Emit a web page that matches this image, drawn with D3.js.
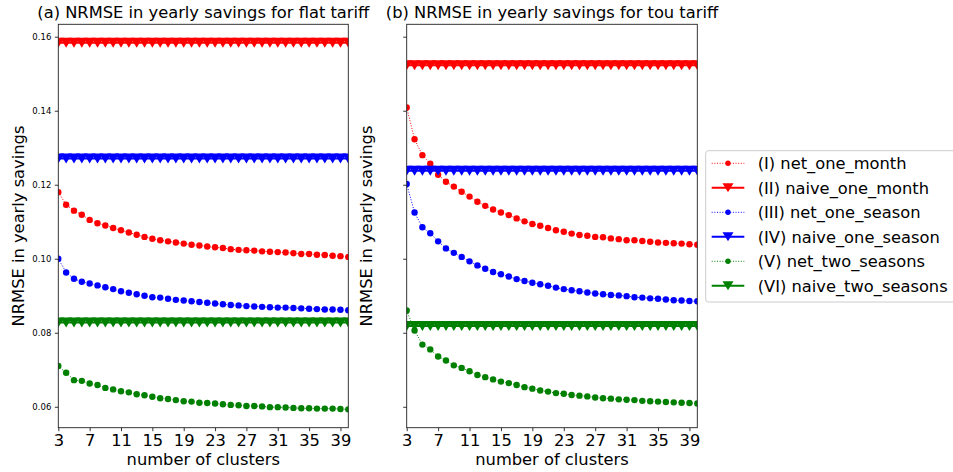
<!DOCTYPE html>
<html>
<head>
<meta charset="utf-8">
<script src="https://cdn.jsdelivr.net/npm/d3@7"></script>
<style>
  html, body { margin: 0; padding: 0; background: #fff; }
  svg { display: block; font-family: "DejaVu Sans", sans-serif; }
</style>
</head>
<body>
<svg id="chart" width="953" height="472"></svg>
<script>
// Number of clusters on the x axis
const clusters = [3, 4, 5, 6, 7, 8, 9, 10, 11, 12, 13, 14, 15, 16, 17, 18, 19, 20, 21,
  22, 23, 24, 25, 26, 27, 28, 29, 30, 31, 32, 33, 34, 35, 36, 37, 38, 39, 40];

// (a) flat tariff
const flatNetOneMonth = [0.1180, 0.1146, 0.1130, 0.1119, 0.1105, 0.1096, 0.1090, 0.1083, 0.1077, 0.1071,
  0.1065, 0.1059, 0.1054, 0.1050, 0.1047, 0.1044, 0.1041, 0.1038, 0.1036, 0.1033,
  0.1031, 0.1029, 0.1026, 0.1024, 0.1023, 0.1022, 0.1020, 0.1019, 0.1018, 0.1017,
  0.1015, 0.1013, 0.1013, 0.1011, 0.1010, 0.1008, 0.1007, 0.1005];
const flatNetOneSeason = [0.1000, 0.0963, 0.0946, 0.0938, 0.0933, 0.0928, 0.0923, 0.0918, 0.0912, 0.0908,
  0.0904, 0.0900, 0.0896, 0.0895, 0.0892, 0.0889, 0.0887, 0.0885, 0.0883, 0.0881,
  0.0879, 0.0877, 0.0875, 0.0874, 0.0872, 0.0871, 0.0870, 0.0869, 0.0868, 0.0868,
  0.0867, 0.0866, 0.0865, 0.0864, 0.0863, 0.0863, 0.0862, 0.0861];
const flatNetTwoSeasons = [0.0710, 0.0692, 0.0672, 0.0670, 0.0663, 0.0659, 0.0651, 0.0647, 0.0642, 0.0639,
  0.0634, 0.0631, 0.0627, 0.0623, 0.0621, 0.0618, 0.0615, 0.0614, 0.0611, 0.0610,
  0.0609, 0.0607, 0.0605, 0.0604, 0.0602, 0.0602, 0.0601, 0.0599, 0.0599, 0.0598,
  0.0597, 0.0596, 0.0596, 0.0595, 0.0595, 0.0595, 0.0594, 0.0593];
const flatNaiveOneMonth = 0.1584;
const flatNaiveOneSeason = 0.1271;
const flatNaiveTwoSeasons = 0.0828;

// (b) time-of-use tariff
const touNetOneMonth = [0.1409, 0.1323, 0.1280, 0.1257, 0.1227, 0.1208, 0.1195, 0.1181, 0.1168, 0.1154,
  0.1143, 0.1133, 0.1125, 0.1118, 0.1109, 0.1101, 0.1094, 0.1089, 0.1083, 0.1077,
  0.1073, 0.1068, 0.1064, 0.1062, 0.1059, 0.1058, 0.1055, 0.1053, 0.1050, 0.1050,
  0.1048, 0.1046, 0.1044, 0.1043, 0.1042, 0.1041, 0.1039, 0.1038];
const touNetOneSeason = [0.1202, 0.1125, 0.1085, 0.1069, 0.1047, 0.1028, 0.1016, 0.1005, 0.0993, 0.0982,
  0.0973, 0.0964, 0.0958, 0.0952, 0.0945, 0.0940, 0.0935, 0.0931, 0.0927, 0.0922,
  0.0918, 0.0915, 0.0912, 0.0909, 0.0906, 0.0904, 0.0902, 0.0901, 0.0899, 0.0896,
  0.0895, 0.0893, 0.0892, 0.0890, 0.0888, 0.0887, 0.0886, 0.0885];
const touNetTwoSeasons = [0.0860, 0.0806, 0.0768, 0.0755, 0.0736, 0.0725, 0.0712, 0.0705, 0.0696, 0.0686,
  0.0680, 0.0674, 0.0668, 0.0664, 0.0659, 0.0653, 0.0649, 0.0644, 0.0641, 0.0637,
  0.0635, 0.0632, 0.0630, 0.0628, 0.0625, 0.0623, 0.0622, 0.0620, 0.0619, 0.0618,
  0.0616, 0.0615, 0.0614, 0.0613, 0.0612, 0.0611, 0.0610, 0.0609];
const touNaiveOneMonth = 0.1523;
const touNaiveOneSeason = 0.1238;
const touNaiveTwoSeasons = 0.0818;

// Series names, in plotting order
const seriesLabels = ["(I) net_one_month", "(II) naive_one_month", "(III) net_one_season",
  "(IV) naive_one_season", "(V) net_two_seasons", "(VI) naive_two_seasons"];
const seriesColors = ["#ff0000", "#ff0000", "#0000ff", "#0000ff", "#008000", "#008000"];

const panelTitles = ["(a) NRMSE in yearly savings for flat tariff",
  "(b) NRMSE in yearly savings for tou tariff"];
const xTicks = [3, 7, 11, 15, 19, 23, 27, 31, 35, 39];
const yTicks = [0.06, 0.08, 0.10, 0.12, 0.14, 0.16];
const xLabel = "number of clusters";
const yLabel = "NRMSE in yearly savings";

// Build per-panel series tables
const expand = v => clusters.map(() => v);
const panels = [
  { title: panelTitles[0], left: 58.3, right: 348.3, showYLabels: true,
    series: [flatNetOneMonth, expand(flatNaiveOneMonth), flatNetOneSeason,
             expand(flatNaiveOneSeason), flatNetTwoSeasons, expand(flatNaiveTwoSeasons)] },
  { title: panelTitles[1], left: 406.7, right: 697.3, showYLabels: false,
    series: [touNetOneMonth, expand(touNaiveOneMonth), touNetOneSeason,
             expand(touNaiveOneSeason), touNetTwoSeasons, expand(touNaiveTwoSeasons)] }
];

const plotTop = 24.3, plotBottom = 427.7;
const bigFont = 16.3;
const svg = d3.select("#chart");

// Shared y range with 5% padding, as both panels share the y axis
const allVals = panels.flatMap(p => p.series.flat());
const yMin = d3.min(allVals), yMax = d3.max(allVals);
const pad = (yMax - yMin) * 0.05;
const y = d3.scaleLinear().domain([yMin - pad, yMax + pad]).range([plotBottom, plotTop]);

const triW = 12, triH = 10, dotR = 3.2;
const triPath = (w, h) => `M0,${h / 2}L${-w / 2},${-h / 2}L${w / 2},${-h / 2}Z`;

panels.forEach((p, pi) => {
  const x = d3.scaleLinear().domain([3, 40]).range([p.left, p.right]);
  const g = svg.append("g");
  const clipId = "clip" + pi;
  svg.append("defs").append("clipPath").attr("id", clipId)
    .append("rect").attr("x", p.left).attr("y", plotTop)
    .attr("width", p.right - p.left).attr("height", plotBottom - plotTop);

  const plot = g.append("g").attr("clip-path", `url(#${clipId})`);

  p.series.forEach((vals, si) => {
    const pts = clusters.map((c, i) => [c, vals[i]]);
    const color = seriesColors[si];
    const isNet = si % 2 === 0;
    const line = d3.line().x(d => x(d[0])).y(d => y(d[1]));
    plot.append("path").datum(pts)
      .attr("d", line)
      .attr("fill", "none")
      .attr("stroke", color)
      .attr("stroke-width", isNet ? 1 : 2)
      .attr("stroke-dasharray", isNet ? "1,1.65" : null);
    if (isNet) {
      plot.append("g").selectAll("circle").data(pts).join("circle")
        .attr("cx", d => x(d[0])).attr("cy", d => y(d[1]))
        .attr("r", dotR).attr("fill", color);
    } else {
      plot.append("g").selectAll("path").data(pts).join("path")
        .attr("transform", d => `translate(${x(d[0])},${y(d[1])})`)
        .attr("d", triPath(triW, triH)).attr("fill", color);
    }
  });

  // Axes
  const xAxis = d3.axisBottom(x).tickValues(xTicks).tickSize(3.5).tickPadding(3.5)
    .tickFormat(d3.format("d"));
  const xg = g.append("g").attr("transform", `translate(0,${plotBottom})`).call(xAxis);
  xg.select(".domain").remove();
  xg.selectAll("text").attr("font-size", bigFont).attr("font-family", "DejaVu Sans").attr("fill", "#000");
  xg.selectAll("line").attr("stroke", "#000").attr("stroke-width", 0.8);

  const yAxis = d3.axisLeft(y).tickValues(yTicks).tickSize(3.5).tickPadding(3.5)
    .tickFormat(p.showYLabels ? d3.format(".2f") : () => "");
  const yg = g.append("g").attr("transform", `translate(${p.left},0)`).call(yAxis);
  yg.select(".domain").remove();
  yg.selectAll("text").attr("font-size", 8.5).attr("font-family", "DejaVu Sans").attr("fill", "#000");
  yg.selectAll("line").attr("stroke", "#000").attr("stroke-width", 0.8);

  // Frame
  g.append("rect").attr("x", p.left).attr("y", plotTop)
    .attr("width", p.right - p.left).attr("height", plotBottom - plotTop)
    .attr("fill", "none").attr("stroke", "#222").attr("stroke-width", 0.9);

  // Title and labels
  const cx = (p.left + p.right) / 2;
  g.append("text").attr("x", cx).attr("y", 18.3).attr("text-anchor", "middle")
    .attr("font-size", bigFont).attr("fill", "#000").text(p.title);
  g.append("text").attr("x", cx).attr("y", 465).attr("text-anchor", "middle")
    .attr("font-size", bigFont).attr("fill", "#000").text(xLabel);
  const ylx = p.left - 34.5;
  g.append("text").attr("transform", `translate(${ylx},${(plotTop + plotBottom) / 2}) rotate(-90)`)
    .attr("text-anchor", "middle").attr("font-size", bigFont).attr("fill", "#000").text(yLabel);
});

// Legend
const lg = svg.append("g");
lg.append("rect").attr("x", 705.7).attr("y", 150.7).attr("width", 270).attr("height", 151.3)
  .attr("rx", 3).attr("fill", "#fff").attr("fill-opacity", 0.8)
  .attr("stroke", "#cccccc").attr("stroke-width", 1);
seriesLabels.forEach((lab, i) => {
  const cy = 163.3 + i * 24.5;
  const color = seriesColors[i];
  const isNet = i % 2 === 0;
  lg.append("line").attr("x1", 711.7).attr("x2", 744.3).attr("y1", cy).attr("y2", cy)
    .attr("stroke", color).attr("stroke-width", isNet ? 1 : 2)
    .attr("stroke-dasharray", isNet ? "1,1.65" : null);
  if (isNet) {
    lg.append("circle").attr("cx", 728).attr("cy", cy).attr("r", 2.7).attr("fill", color);
  } else {
    lg.append("path").attr("transform", `translate(728,${cy})`)
      .attr("d", triPath(11, 9)).attr("fill", color);
  }
  lg.append("text").attr("x", 757.7).attr("y", cy).attr("dy", "0.35em")
    .attr("font-size", bigFont).attr("fill", "#000").text(lab);
});
</script>
</body>
</html>
